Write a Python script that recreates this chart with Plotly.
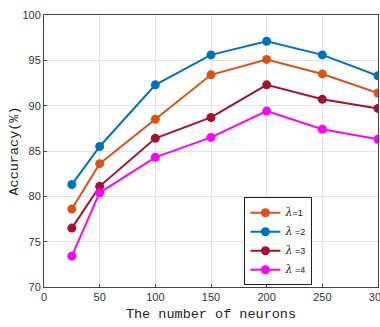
import plotly.graph_objects as go

neurons = [25, 50, 100, 150, 200, 250, 300]
acc_l1 = [78.6, 83.6, 88.5, 93.4, 95.1, 93.5, 91.4]
acc_l2 = [81.3, 85.5, 92.3, 95.6, 97.1, 95.6, 93.3]
acc_l3 = [76.5, 81.1, 86.4, 88.7, 92.3, 90.7, 89.7]
acc_l4 = [73.4, 80.4, 84.3, 86.5, 89.4, 87.4, 86.3]
lam = "<span style='font-family:DejaVu Serif;font-size:11px'><i>λ</i></span>"
labels = [lam + "=1", lam + " =2", lam + " =3", lam + " =4"]
colors = ["#D95319", "#0072BD", "#A2142F", "#FF00FF"]
x_ticks = [0, 50, 100, 150, 200, 250, 300]
y_ticks = [70, 75, 80, 85, 90, 95, 100]

fig = go.Figure()
for ys, name, c in zip([acc_l1, acc_l2, acc_l3, acc_l4], labels, colors):
    fig.add_trace(go.Scatter(x=neurons, y=ys, name=name, mode="lines+markers",
                             line=dict(color=c, width=2),
                             marker=dict(color=c, size=9)))

axis_common = dict(showline=True, linecolor="#444", linewidth=1, mirror=True,
                   showgrid=True, gridcolor="#e3e3e3", gridwidth=1,
                   ticks="inside", ticklen=3, tickcolor="#444",
                   tickfont=dict(family="Liberation Sans, Arial", size=11, color="#333"),
                   zeroline=False, ticklabeloverflow="allow", automargin=False)

fig.update_layout(
    width=380, height=327,
    margin=dict(l=44, r=2, t=15, b=40),
    paper_bgcolor="white", plot_bgcolor="white",
    xaxis=dict(range=[0, 300], tickvals=x_ticks,
               title=dict(text="The number of neurons", standoff=6,
                          font=dict(family="Liberation Mono", size=13.5, color="#222")),
               **axis_common),
    yaxis=dict(range=[70, 100], tickvals=y_ticks,
               title=dict(text="Accuracy(%)", standoff=0,
                          font=dict(family="Liberation Mono", size=13.5, color="#222")),
               **axis_common),
    legend=dict(x=0.6, y=0.33, xanchor="left", yanchor="top",
                bgcolor="white", bordercolor="#222", borderwidth=1,
                font=dict(family="Liberation Sans, Arial", size=9, color="#222"),
                tracegroupgap=0, itemwidth=30),
    showlegend=True,
)

fig.write_html("out.html", config={"displayModeBar": False},
               post_script="document.body.style.margin='0';document.body.style.overflow='hidden';")
